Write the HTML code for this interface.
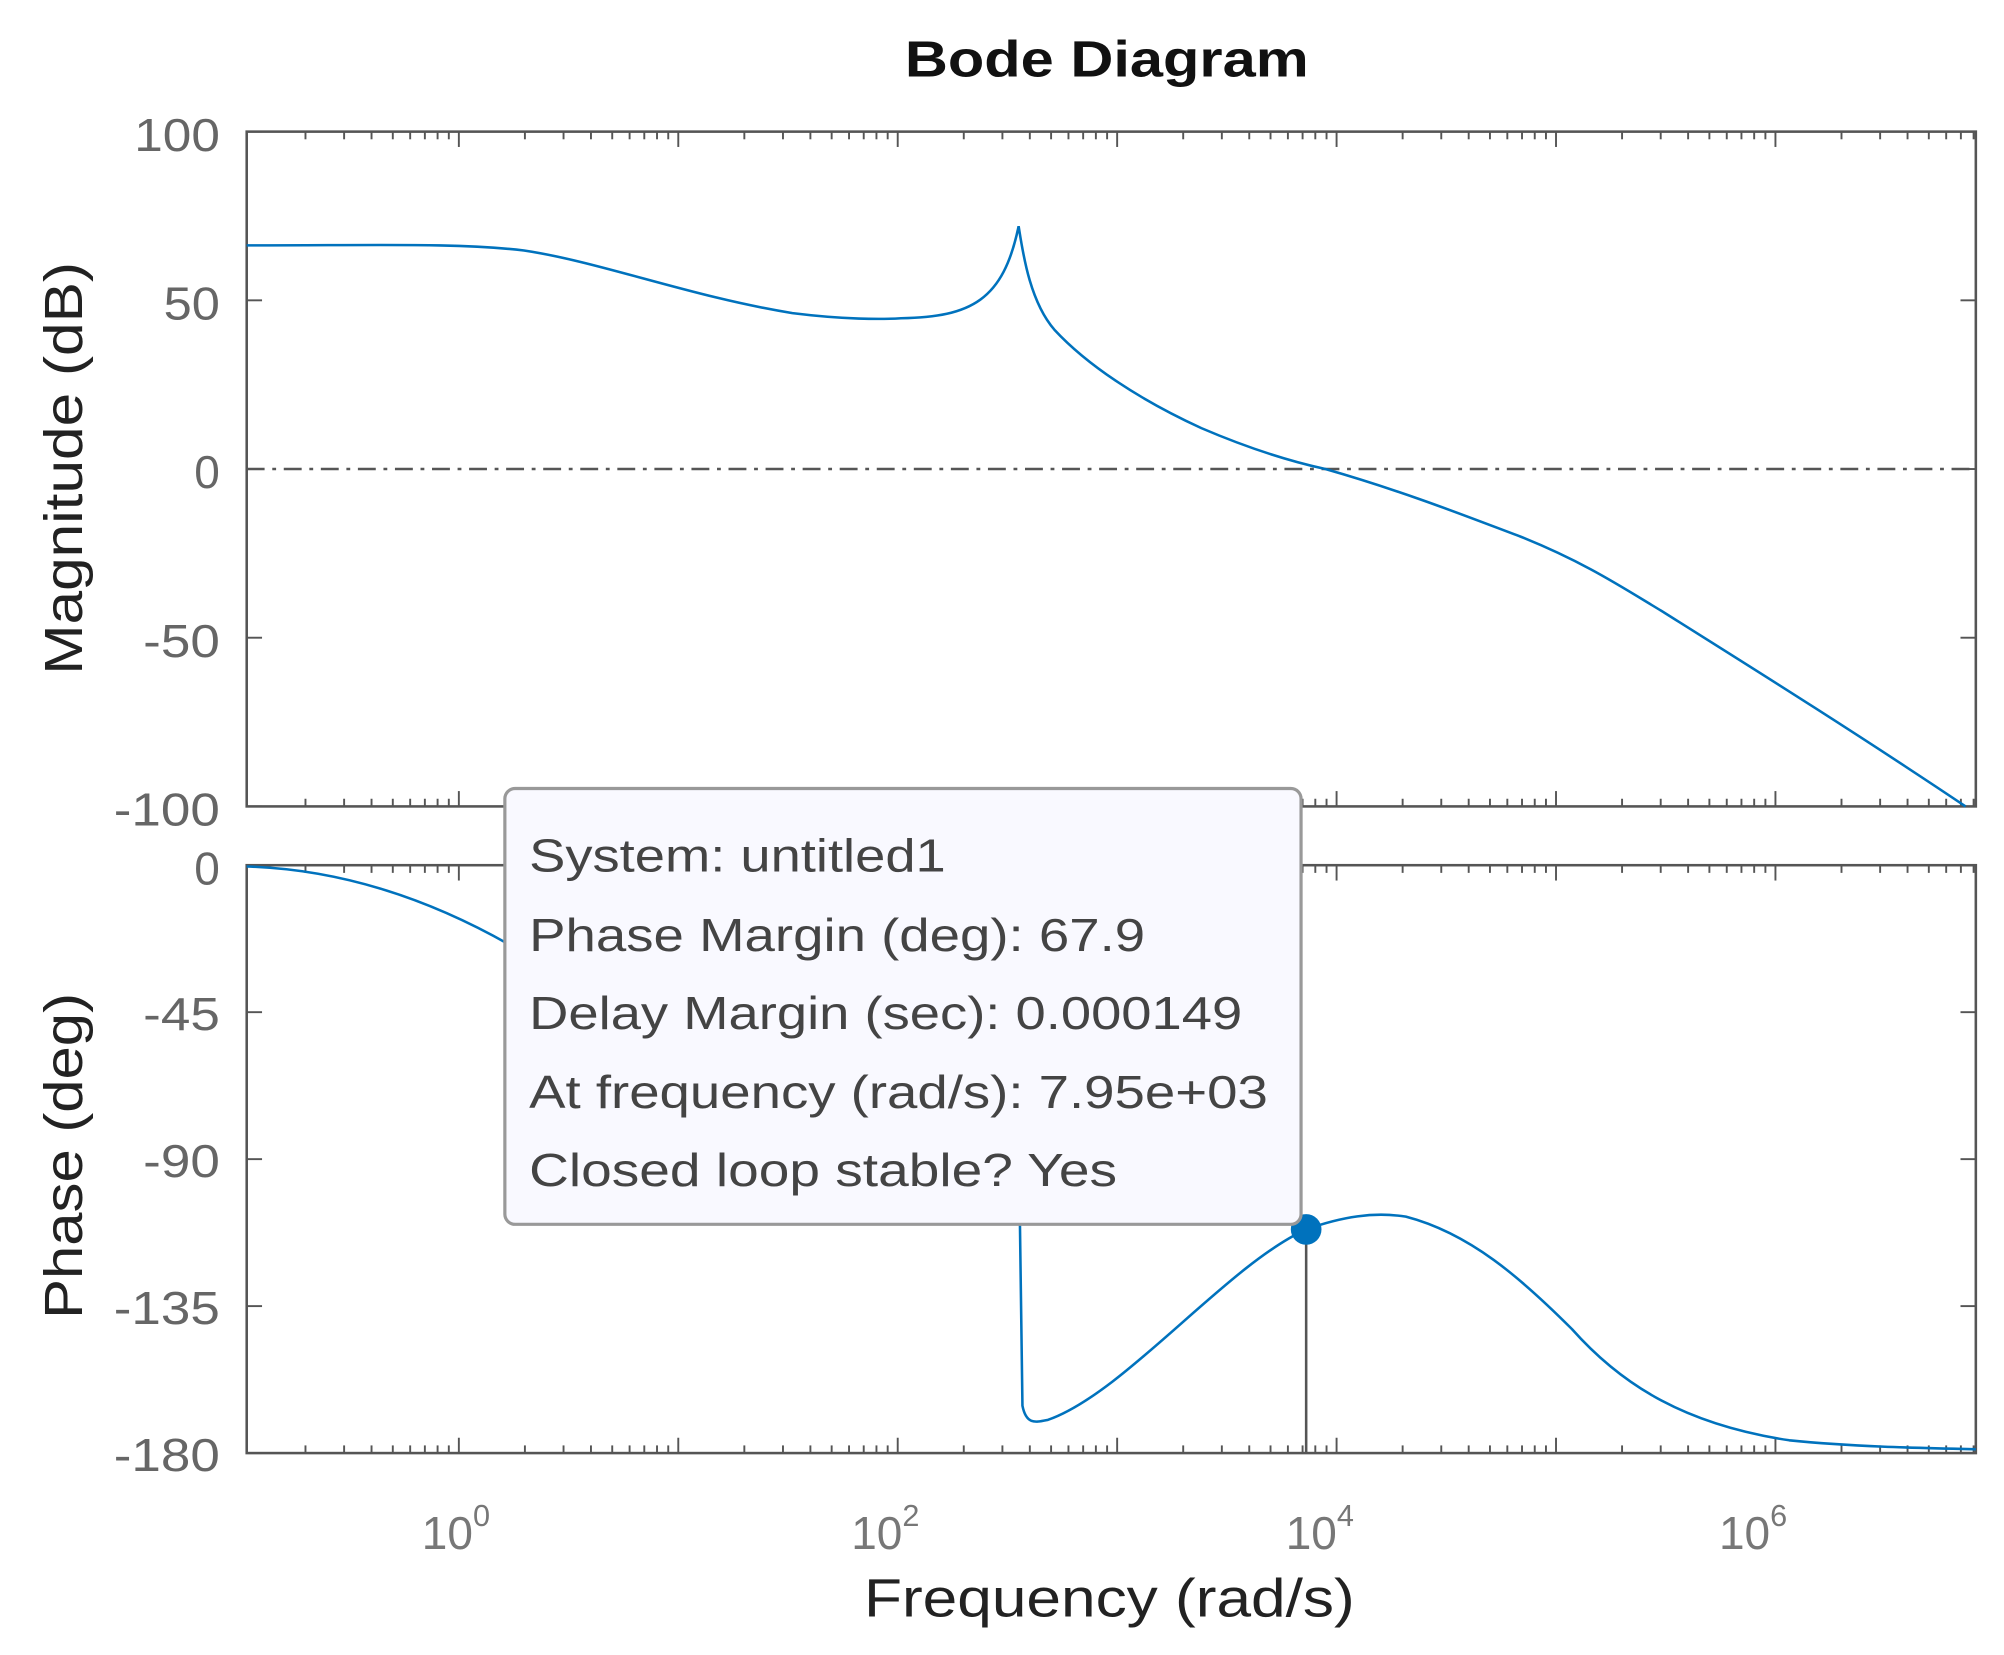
<!DOCTYPE html>
<html><head><meta charset="utf-8"><style>
html,body{margin:0;padding:0;background:#fff;}
svg{display:block;}
text{font-family:"Liberation Sans",sans-serif;}
</style></head><body>
<svg id="s" width="2004" height="1655" viewBox="0 0 1568 1295" xmlns="http://www.w3.org/2000/svg">
<rect width="1568" height="1295" fill="#fff"/>
<text x="708" y="60" font-size="40" font-weight="bold" textLength="316" lengthAdjust="spacingAndGlyphs" fill="#111">Bode Diagram</text>
<g id="ticks" stroke="#555" stroke-width="1.5"></g>
<rect x="193" y="103" width="1353" height="528" fill="none" stroke="#555" stroke-width="2"/>
<rect x="193" y="677" width="1353" height="460" fill="none" stroke="#555" stroke-width="2"/>
<line x1="193" y1="367" x2="1546" y2="367" stroke="#555" stroke-width="2" stroke-dasharray="14,6,3,6"/>
<g font-size="36" fill="#666" text-anchor="end">
<text x="172" y="118" textLength="67" lengthAdjust="spacingAndGlyphs">100</text><text x="172" y="250" textLength="44" lengthAdjust="spacingAndGlyphs">50</text><text x="172" y="382">0</text>
<text x="172" y="514" textLength="60" lengthAdjust="spacingAndGlyphs">-50</text><text x="172" y="646" textLength="83" lengthAdjust="spacingAndGlyphs">-100</text>
<text x="172" y="692">0</text><text x="172" y="806" textLength="60" lengthAdjust="spacingAndGlyphs">-45</text><text x="172" y="921" textLength="60" lengthAdjust="spacingAndGlyphs">-90</text>
<text x="172" y="1036" textLength="83" lengthAdjust="spacingAndGlyphs">-135</text><text x="172" y="1151" textLength="83" lengthAdjust="spacingAndGlyphs">-180</text>
</g>
<g font-size="36" fill="#777">
<text x="330" y="1212">10<tspan font-size="24" dy="-18">0</tspan></text>
<text x="666" y="1212">10<tspan font-size="24" dy="-18">2</tspan></text>
<text x="1006" y="1212">10<tspan font-size="24" dy="-18">4</tspan></text>
<text x="1345" y="1212">10<tspan font-size="24" dy="-18">6</tspan></text>
</g>
<text x="676" y="1265" font-size="42" fill="#222" textLength="384" lengthAdjust="spacingAndGlyphs">Frequency  (rad/s)</text>
<text transform="translate(64,528) rotate(-90)" font-size="42" fill="#222" textLength="323" lengthAdjust="spacingAndGlyphs">Magnitude (dB)</text>
<text transform="translate(64,1032) rotate(-90)" font-size="42" fill="#222" textLength="255" lengthAdjust="spacingAndGlyphs">Phase (deg)</text>
<g fill="none" stroke="#0072bd" stroke-width="2">
<path d="M193,192 C300,192 360,190 410,196 C470,205 540,232 620,245 C660,250 690,250 705,249 C760,248 785,235 797,177 C800,195 805,235 825,258 C850,285 890,312 940,335 C975,350 1005,360 1037,367 C1100,385 1150,405 1190,420 C1240,440 1270,460 1300,478 C1370,522 1450,572 1538,631"/>
<path d="M193,678 C260,680 330,700 400,740"/>
<path d="M798,955 L800,1100 C803,1115 810,1113 820,1111 C880,1090 960,990 1022,962 C1050,952 1075,948 1100,952 C1150,965 1190,1000 1230,1040 C1270,1085 1320,1115 1400,1127 C1450,1132 1500,1133 1546,1134"/>
</g>
<line x1="1022" y1="962" x2="1022" y2="1137" stroke="#555" stroke-width="2"/>
<circle cx="1022" cy="962" r="12" fill="#0072bd"/>
<rect x="395" y="617" width="623" height="341" rx="8" fill="#f9f9ff" stroke="#999" stroke-width="2.5"/>
<g font-size="36" fill="#444">
<text x="414" y="682" textLength="326" lengthAdjust="spacingAndGlyphs">System: untitled1</text>
<text x="414" y="744" textLength="482" lengthAdjust="spacingAndGlyphs">Phase Margin (deg): 67.9</text>
<text x="414" y="805" textLength="558" lengthAdjust="spacingAndGlyphs">Delay Margin (sec): 0.000149</text>
<text x="414" y="867" textLength="578" lengthAdjust="spacingAndGlyphs">At frequency (rad/s): 7.95e+03</text>
<text x="414" y="928" textLength="460" lengthAdjust="spacingAndGlyphs">Closed loop stable? Yes</text>
</g>
</svg>
<script>
(function(){
var g=document.getElementById('ticks'),ns='http://www.w3.org/2000/svg';
function L(x1,y1,x2,y2){var l=document.createElementNS(ns,'line');l.setAttribute('x1',x1);l.setAttribute('y1',y1);l.setAttribute('x2',x2);l.setAttribute('y2',y2);g.appendChild(l);}
var x0=359,dec=171.7;
var axes=[[103,631],[677,1137]];
for(var d=-2;d<=7;d++){for(var k=1;k<10;k++){var x=x0+dec*(d+Math.log10(k));if(x<193||x>1546)continue;var len=(k==1)?12:6;
axes.forEach(function(a){L(x,a[0],x,a[0]+len);L(x,a[1],x,a[1]-len);});}}
[103,235,367,499,631].forEach(function(y){L(193,y,205,y);L(1546,y,1534,y);});
[677,792,907,1022,1137].forEach(function(y){L(193,y,205,y);L(1546,y,1534,y);});
})();
</script>
</body></html>
